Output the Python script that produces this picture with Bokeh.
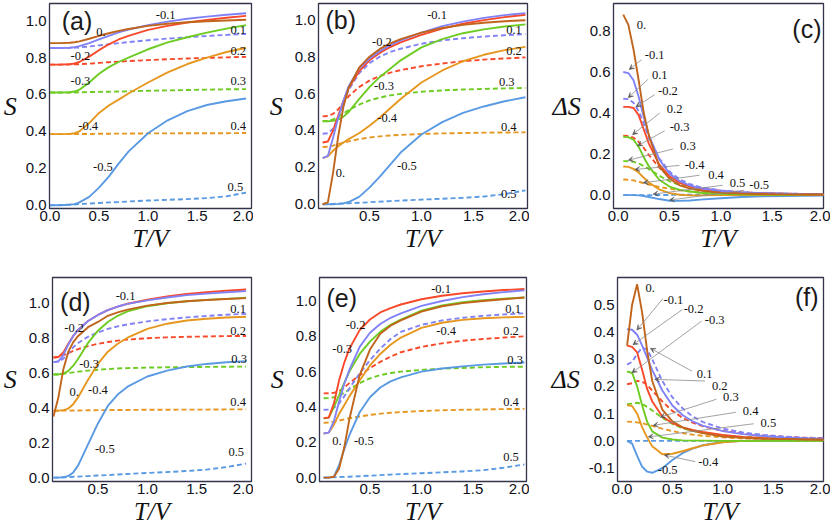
from bokeh.plotting import figure
from bokeh.layouts import column, row
from bokeh.models import (Label, LabelSet, ColumnDataSource, FixedTicker,
                          PrintfTickFormatter, Arrow, VeeHead, Range1d)
from bokeh.embed import file_html
from bokeh.resources import INLINE

# ---------------- data ----------------
XA = [0.0, 0.1, 0.2, 0.25, 0.3, 0.4, 0.5, 0.6, 0.7, 0.8, 1.0, 1.2, 1.4, 1.6, 1.8, 2.0]
XB = [0.05, 0.1, 0.15, 0.2, 0.25, 0.3, 0.4, 0.5, 0.6, 0.7, 0.8, 1.0, 1.2, 1.4, 1.6, 1.8, 2.0]
X_TICKS = [0.0, 0.5, 1.0, 1.5, 2.0]
S_TICKS = [0.0, 0.2, 0.4, 0.6, 0.8, 1.0]
C_TICKS = [0.0, 0.2, 0.4, 0.6, 0.8]
F_TICKS = [-0.1, 0.0, 0.1, 0.2, 0.3, 0.4, 0.5]

# panel (a)
a_0  = [0.878, 0.878, 0.880, 0.883, 0.888, 0.902, 0.918, 0.932, 0.945, 0.955, 0.972, 0.983, 0.991, 0.997, 1.001, 1.005]
a_m1 = [0.852, 0.852, 0.853, 0.856, 0.862, 0.878, 0.898, 0.918, 0.937, 0.952, 0.975, 0.995, 1.010, 1.022, 1.032, 1.040]
a_p1 = [0.852, 0.852, 0.853, 0.854, 0.855, 0.860, 0.866, 0.872, 0.878, 0.884, 0.894, 0.903, 0.910, 0.917, 0.923, 0.928]
a_m2 = [0.762, 0.762, 0.764, 0.768, 0.776, 0.805, 0.840, 0.872, 0.898, 0.918, 0.950, 0.972, 0.990, 1.004, 1.016, 1.026]
a_p2 = [0.762, 0.762, 0.763, 0.763, 0.764, 0.767, 0.771, 0.775, 0.778, 0.781, 0.786, 0.791, 0.795, 0.798, 0.801, 0.804]
a_m3 = [0.611, 0.611, 0.612, 0.616, 0.626, 0.665, 0.712, 0.748, 0.776, 0.800, 0.845, 0.882, 0.910, 0.935, 0.957, 0.976]
a_p3 = [0.611, 0.611, 0.611, 0.611, 0.612, 0.613, 0.614, 0.615, 0.616, 0.617, 0.620, 0.622, 0.624, 0.626, 0.628, 0.629]
a_m4 = [0.385, 0.385, 0.386, 0.390, 0.400, 0.445, 0.500, 0.540, 0.572, 0.605, 0.665, 0.720, 0.765, 0.800, 0.830, 0.853]
a_p4 = [0.385, 0.385, 0.385, 0.385, 0.386, 0.386, 0.387, 0.387, 0.388, 0.388, 0.389, 0.389, 0.390, 0.390, 0.390, 0.391]
a_m5 = [0.0, 0.0, 0.002, 0.006, 0.015, 0.045, 0.095, 0.155, 0.225, 0.290, 0.390, 0.460, 0.510, 0.543, 0.563, 0.578]
a_p5 = [0.0, 0.001, 0.003, 0.004, 0.006, 0.009, 0.012, 0.015, 0.017, 0.020, 0.025, 0.029, 0.033, 0.038, 0.048, 0.068]

# panel (b)
b_0  = [0.0, 0.01, 0.17, 0.37, 0.53, 0.63, 0.74, 0.80, 0.842, 0.872, 0.895, 0.93, 0.955, 0.972, 0.984, 0.992, 0.997]
b_m1 = [0.25, 0.262, 0.36, 0.47, 0.56, 0.64, 0.735, 0.79, 0.83, 0.862, 0.888, 0.93, 0.965, 0.99, 1.01, 1.025, 1.036]
b_p1 = [0.382, 0.385, 0.41, 0.47, 0.55, 0.62, 0.71, 0.765, 0.80, 0.825, 0.843, 0.87, 0.888, 0.90, 0.909, 0.916, 0.922]
b_m2 = [0.335, 0.34, 0.40, 0.48, 0.56, 0.63, 0.72, 0.78, 0.82, 0.852, 0.877, 0.918, 0.952, 0.978, 0.998, 1.014, 1.027]
b_p2 = [0.476, 0.478, 0.49, 0.515, 0.55, 0.585, 0.635, 0.67, 0.695, 0.713, 0.727, 0.748, 0.763, 0.775, 0.784, 0.79, 0.796]
b_m3 = [0.45, 0.45, 0.452, 0.46, 0.475, 0.50, 0.57, 0.635, 0.69, 0.735, 0.78, 0.85, 0.895, 0.927, 0.948, 0.963, 0.975]
b_p3 = [0.45, 0.452, 0.46, 0.475, 0.492, 0.51, 0.54, 0.563, 0.578, 0.59, 0.598, 0.61, 0.617, 0.622, 0.625, 0.628, 0.63]
b_m4 = [0.25, 0.26, 0.29, 0.315, 0.335, 0.353, 0.385, 0.425, 0.47, 0.52, 0.57, 0.66, 0.725, 0.775, 0.81, 0.835, 0.853]
b_p4 = [0.31, 0.312, 0.318, 0.326, 0.334, 0.341, 0.353, 0.362, 0.368, 0.373, 0.376, 0.381, 0.384, 0.386, 0.388, 0.389, 0.39]
b_m5 = [0.0, 0.0, 0.0, 0.002, 0.005, 0.012, 0.04, 0.09, 0.15, 0.215, 0.28, 0.378, 0.445, 0.495, 0.53, 0.558, 0.58]
b_p5 = [0.0, 0.001, 0.002, 0.003, 0.004, 0.005, 0.008, 0.011, 0.014, 0.017, 0.02, 0.025, 0.03, 0.035, 0.042, 0.055, 0.075]

# panel (c)
c_0  = [0.88, 0.83, 0.71, 0.56, 0.40, 0.29, 0.14, 0.08, 0.048, 0.032, 0.022, 0.012, 0.008, 0.006, 0.004, 0.003, 0.003]
c_m1 = [0.60, 0.595, 0.56, 0.48, 0.38, 0.29, 0.175, 0.105, 0.068, 0.047, 0.034, 0.02, 0.013, 0.009, 0.007, 0.005, 0.004]
c_p1 = [0.47, 0.468, 0.45, 0.41, 0.35, 0.28, 0.18, 0.115, 0.077, 0.054, 0.039, 0.023, 0.015, 0.01, 0.008, 0.006, 0.005]
c_m2 = [0.43, 0.43, 0.425, 0.39, 0.32, 0.25, 0.15, 0.092, 0.06, 0.042, 0.03, 0.018, 0.011, 0.008, 0.006, 0.004, 0.003]
c_p2 = [0.29, 0.289, 0.28, 0.26, 0.23, 0.195, 0.135, 0.09, 0.062, 0.045, 0.034, 0.021, 0.014, 0.01, 0.008, 0.006, 0.005]
c_m3 = [0.285, 0.283, 0.27, 0.235, 0.185, 0.14, 0.075, 0.042, 0.026, 0.018, 0.012, 0.007, 0.004, 0.003, 0.002, 0.002, 0.002]
c_p3 = [0.166, 0.165, 0.162, 0.155, 0.142, 0.127, 0.095, 0.068, 0.05, 0.037, 0.028, 0.017, 0.012, 0.009, 0.007, 0.005, 0.004]
c_m4 = [0.14, 0.138, 0.128, 0.11, 0.085, 0.062, 0.028, 0.01, 0.002, -0.001, -0.001, 0.0, 0.0, 0.0, 0.0, 0.0, 0.0]
c_p4 = [0.076, 0.075, 0.072, 0.066, 0.058, 0.052, 0.04, 0.031, 0.024, 0.018, 0.014, 0.009, 0.006, 0.005, 0.004, 0.003, 0.003]
c_m5 = [0.0, 0.0, 0.0, -0.001, -0.004, -0.009, -0.019, -0.027, -0.028, -0.026, -0.022, -0.015, -0.009, -0.006, -0.004, -0.003, -0.002]
c_p5 = [0.0, 0.0, 0.0, 0.0, 0.0, 0.0, 0.001, 0.001, 0.002, 0.002, 0.002, 0.002, 0.002, 0.002, 0.002, 0.002, 0.002]

# panel (d)
d_0  = [0.35, 0.46, 0.62, 0.72, 0.775, 0.81, 0.86, 0.89, 0.925, 0.945, 0.96, 0.983, 0.998, 1.008, 1.015, 1.021, 1.026]
d_m1 = [0.66, 0.665, 0.70, 0.76, 0.81, 0.845, 0.895, 0.93, 0.957, 0.978, 0.993, 1.013, 1.03, 1.043, 1.052, 1.06, 1.066]
d_p1 = [0.66, 0.663, 0.68, 0.71, 0.745, 0.77, 0.805, 0.83, 0.85, 0.865, 0.876, 0.893, 0.906, 0.916, 0.924, 0.931, 0.937]
d_m2 = [0.687, 0.69, 0.715, 0.765, 0.81, 0.845, 0.895, 0.93, 0.957, 0.978, 0.994, 1.017, 1.036, 1.05, 1.06, 1.068, 1.075]
d_p2 = [0.687, 0.69, 0.70, 0.712, 0.724, 0.735, 0.752, 0.765, 0.775, 0.783, 0.789, 0.797, 0.802, 0.805, 0.807, 0.809, 0.81]
d_m3 = [0.59, 0.59, 0.595, 0.61, 0.64, 0.68, 0.77, 0.84, 0.89, 0.925, 0.95, 0.98, 0.997, 1.008, 1.016, 1.022, 1.028]
d_p3 = [0.59, 0.591, 0.594, 0.598, 0.602, 0.606, 0.612, 0.617, 0.621, 0.624, 0.626, 0.629, 0.631, 0.632, 0.633, 0.634, 0.635]
d_m4 = [0.382, 0.383, 0.386, 0.395, 0.42, 0.46, 0.56, 0.65, 0.72, 0.765, 0.80, 0.85, 0.88, 0.898, 0.908, 0.915, 0.92]
d_p4 = [0.382, 0.382, 0.383, 0.383, 0.384, 0.384, 0.385, 0.386, 0.386, 0.387, 0.387, 0.388, 0.388, 0.389, 0.389, 0.39, 0.39]
d_m5 = [0.0, 0.0, 0.002, 0.01, 0.03, 0.07, 0.19, 0.31, 0.41, 0.475, 0.52, 0.578, 0.612, 0.635, 0.65, 0.66, 0.666]
d_p5 = [0.0, 0.001, 0.002, 0.003, 0.005, 0.006, 0.009, 0.012, 0.015, 0.018, 0.021, 0.027, 0.032, 0.038, 0.046, 0.06, 0.08]

# panel (e)
e_0  = [0.0, 0.0, 0.005, 0.05, 0.17, 0.33, 0.58, 0.725, 0.815, 0.86, 0.89, 0.94, 0.97, 0.988, 1.0, 1.01, 1.02]
e_m1 = [0.25, 0.255, 0.32, 0.43, 0.53, 0.61, 0.74, 0.82, 0.87, 0.905, 0.93, 0.972, 1.0, 1.022, 1.038, 1.05, 1.06]
e_p1 = [0.384, 0.385, 0.395, 0.42, 0.46, 0.505, 0.59, 0.665, 0.73, 0.785, 0.825, 0.865, 0.89, 0.905, 0.916, 0.924, 0.93]
e_m2 = [0.337, 0.34, 0.42, 0.55, 0.65, 0.73, 0.835, 0.895, 0.935, 0.96, 0.98, 1.01, 1.03, 1.044, 1.054, 1.062, 1.068]
e_p2 = [0.477, 0.478, 0.48, 0.49, 0.51, 0.535, 0.58, 0.62, 0.655, 0.685, 0.71, 0.74, 0.76, 0.775, 0.785, 0.793, 0.80]
e_m3 = [0.335, 0.34, 0.40, 0.465, 0.535, 0.60, 0.70, 0.77, 0.825, 0.865, 0.895, 0.945, 0.975, 0.993, 1.005, 1.013, 1.02]
e_p3 = [0.449, 0.45, 0.455, 0.465, 0.48, 0.50, 0.535, 0.562, 0.58, 0.592, 0.60, 0.61, 0.617, 0.621, 0.625, 0.627, 0.628]
e_m4 = [0.25, 0.255, 0.30, 0.36, 0.41, 0.46, 0.55, 0.635, 0.70, 0.752, 0.793, 0.848, 0.877, 0.893, 0.902, 0.907, 0.91]
e_p4 = [0.31, 0.312, 0.317, 0.323, 0.33, 0.336, 0.346, 0.355, 0.362, 0.367, 0.371, 0.377, 0.381, 0.384, 0.386, 0.388, 0.389]
e_m5 = [0.0, 0.0, 0.005, 0.07, 0.16, 0.24, 0.37, 0.455, 0.51, 0.545, 0.568, 0.6, 0.618, 0.63, 0.64, 0.646, 0.652]
e_p5 = [0.0, 0.001, 0.002, 0.003, 0.004, 0.005, 0.008, 0.011, 0.014, 0.017, 0.02, 0.025, 0.03, 0.035, 0.042, 0.056, 0.075]

# panel (f)
f_0  = [0.35, 0.50, 0.575, 0.47, 0.33, 0.22, 0.115, 0.072, 0.05, 0.037, 0.029, 0.016, 0.011, 0.008, 0.007, 0.006, 0.005]
f_m1 = [0.41, 0.408, 0.39, 0.35, 0.305, 0.26, 0.185, 0.13, 0.095, 0.072, 0.056, 0.036, 0.025, 0.018, 0.013, 0.01, 0.008]
f_p1 = [0.28, 0.29, 0.32, 0.343, 0.335, 0.30, 0.22, 0.16, 0.12, 0.09, 0.07, 0.045, 0.031, 0.022, 0.016, 0.012, 0.009]
f_m2 = [0.35, 0.345, 0.325, 0.26, 0.19, 0.145, 0.09, 0.065, 0.05, 0.04, 0.033, 0.022, 0.015, 0.011, 0.008, 0.006, 0.005]
f_p2 = [0.208, 0.212, 0.22, 0.218, 0.205, 0.185, 0.145, 0.11, 0.085, 0.067, 0.054, 0.037, 0.027, 0.02, 0.015, 0.012, 0.01]
f_m3 = [0.255, 0.25, 0.20, 0.13, 0.07, 0.035, 0.012, 0.005, 0.002, 0.001, 0.001, 0.0, 0.0, 0.0, 0.0, 0.0, 0.0]
f_p3 = [0.135, 0.137, 0.14, 0.135, 0.125, 0.112, 0.085, 0.062, 0.047, 0.037, 0.03, 0.02, 0.015, 0.012, 0.01, 0.008, 0.007]
f_m4 = [0.132, 0.128, 0.10, 0.05, 0.012, -0.02, -0.049, -0.047, -0.038, -0.027, -0.017, -0.005, 0.0, 0.001, 0.001, 0.001, 0.001]
f_p4 = [0.071, 0.07, 0.068, 0.065, 0.06, 0.055, 0.045, 0.036, 0.029, 0.023, 0.019, 0.013, 0.009, 0.007, 0.006, 0.005, 0.004]
f_m5 = [0.0, -0.01, -0.055, -0.095, -0.113, -0.117, -0.1, -0.07, -0.045, -0.028, -0.016, -0.004, 0.0, 0.001, 0.001, 0.001, 0.001]
f_p5 = [0.0, 0.0, 0.0, 0.0, 0.0, 0.0, 0.0, 0.0, 0.0, 0.0, 0.0, 0.0, 0.0, 0.0, 0.0, 0.0, 0.0]

# curve labels: (text, x, y)
a_labels = [("0.", 0.52, 0.94), ("-0.1", 1.18, 1.03), ("0.1", 1.92, 0.95), ("-0.2", 0.31, 0.81),
            ("0.2", 1.92, 0.836), ("-0.3", 0.31, 0.673), ("0.3", 1.92, 0.673), ("-0.4", 0.39, 0.43),
            ("0.4", 1.92, 0.43), ("-0.5", 0.54, 0.205), ("0.5", 1.89, 0.098)]
b_labels = [("-0.1", 1.15, 1.027), ("0.1", 1.89, 0.944), ("-0.2", 0.62, 0.877), ("0.2", 1.89, 0.829),
            ("-0.3", 0.64, 0.643), ("0.3", 1.82, 0.665), ("-0.4", 0.67, 0.47), ("0.4", 1.84, 0.418),
            ("-0.5", 0.86, 0.21), ("0.", 0.22, 0.17), ("0.5", 1.84, 0.058)]
c_labels = [("0.", 0.227, 0.83), ("-0.1", 0.356, 0.684), ("0.1", 0.405, 0.585), ("-0.2", 0.485, 0.51),
            ("0.2", 0.55, 0.42), ("-0.3", 0.598, 0.33), ("0.3", 0.679, 0.238), ("-0.4", 0.744, 0.148),
            ("0.4", 0.953, 0.097), ("0.5", 1.163, 0.06), ("-0.5", 1.373, 0.048)]
d_labels = [("-0.1", 0.78, 1.04), ("0.1", 1.92, 0.966), ("-0.2", 0.26, 0.854), ("0.2", 1.92, 0.84),
            ("-0.3", 0.41, 0.65), ("0.3", 1.93, 0.677), ("0.", 0.26, 0.49), ("-0.4", 0.5, 0.5),
            ("0.4", 1.92, 0.435), ("-0.5", 0.57, 0.164), ("0.5", 1.9, 0.146)]
e_labels = [("-0.1", 1.19, 1.068), ("0.1", 1.89, 0.957), ("-0.2", 0.36, 0.865), ("-0.4", 1.24, 0.832),
            ("0.2", 1.87, 0.828), ("-0.3", 0.23, 0.726), ("0.3", 1.91, 0.665), ("0.4", 1.87, 0.43),
            ("0.", 0.18, 0.209), ("-0.5", 0.44, 0.209), ("0.5", 1.87, 0.116)]
f_labels = [("0.", 0.28, 0.56), ("-0.1", 0.51, 0.518), ("-0.2", 0.71, 0.486), ("-0.3", 0.92, 0.443),
            ("0.1", 0.82, 0.244), ("0.2", 0.97, 0.20), ("0.3", 1.08, 0.16), ("0.4", 1.276, 0.111),
            ("0.5", 1.453, 0.066), ("-0.4", 0.856, -0.079), ("-0.5", 0.453, -0.106)]

# leader arrows: (x_tail, y_tail, x_head, y_head)
c_arrows = [(0.227, 0.66, 0.108, 0.612), (0.29, 0.564, 0.098, 0.475), (0.356, 0.49, 0.173, 0.43),
            (0.405, 0.40, 0.14, 0.295), (0.453, 0.314, 0.189, 0.24), (0.534, 0.225, 0.098, 0.17),
            (0.598, 0.145, 0.163, 0.125), (0.792, 0.097, 0.244, 0.06), (1.018, 0.048, 0.34, 0.005),
            (1.227, 0.024, 0.5, -0.024)]
f_arrows = [(0.405, 0.522, 0.147, 0.407), (0.598, 0.482, 0.108, 0.353), (0.79, 0.44, 0.098, 0.25),
            (0.695, 0.256, 0.282, 0.34), (0.824, 0.22, 0.324, 0.226), (0.937, 0.153, 0.379, 0.087),
            (1.13, 0.105, 0.308, 0.057), (1.308, 0.063, 0.26, 0.0145), (0.727, -0.076, 0.42, -0.052)]

# ---------------- styling ----------------
COL = {"0": "#c0651b", "1": "#8282f7", "2": "#f84a2a", "3": "#6dcb22", "4": "#e6971f", "5": "#5a9ae3"}
ORDER = ["p5", "p4", "p3", "p2", "p1", "m5", "m4", "m3", "m2", "m1", "0"]
TICK_FONT = "Liberation Sans"
TEXT_COL = "#101020"


def make_panel(lay, xr, yr, yticks, xs, series, labels, tag, tag_pos, ylab, ylab_standoff, arrows=None):
    L, FW, R, T, FH, B = lay
    p = figure(width=L + FW + R, height=T + FH + B, x_range=Range1d(*xr), y_range=Range1d(*yr),
               output_backend="svg", toolbar_location=None, title=None,
               min_border_left=L, min_border_right=R, min_border_top=T, min_border_bottom=B)
    p.background_fill_color = "white"
    p.border_fill_color = "white"
    p.outline_line_color = "#33334a"
    p.outline_line_width = 1.3
    p.xgrid.visible = False
    p.ygrid.visible = False
    for ax in (p.xaxis[0], p.yaxis[0]):
        ax.axis_line_color = None
        ax.major_tick_line_color = None
        ax.minor_tick_line_color = None
        ax.major_tick_in = 0
        ax.major_tick_out = 0
        ax.minor_tick_in = 0
        ax.minor_tick_out = 0
        ax.major_label_text_font = TICK_FONT
        ax.major_label_text_font_size = "15px"
        ax.major_label_text_color = TEXT_COL
        ax.major_label_standoff = 3
        ax.formatter = PrintfTickFormatter(format="%.1f")
        ax.axis_label_text_font = "Liberation Serif"
        ax.axis_label_text_font_style = "italic"
        ax.axis_label_text_color = "#111111"
    p.xaxis[0].ticker = FixedTicker(ticks=X_TICKS)
    p.yaxis[0].ticker = FixedTicker(ticks=yticks)
    p.xaxis[0].axis_label = "T/V"
    p.xaxis[0].axis_label_text_font_size = "25px"
    p.xaxis[0].axis_label_standoff = 1
    p.xaxis[0].major_label_standoff = 2
    p.yaxis[0].axis_label = ylab
    p.yaxis[0].axis_label_text_font_size = "26px"
    p.yaxis[0].axis_label_orientation = "horizontal"
    p.yaxis[0].axis_label_standoff = ylab_standoff

    def px2x(px):
        return xr[0] + px / FW * (xr[1] - xr[0])

    def py2y(py):  # py measured downward from frame top
        return yr[1] - py / FH * (yr[1] - yr[0])

    for key in ORDER:
        ys = series[key]
        c = COL[key[-1]]
        dash = "5 3" if key.startswith("p") else "solid"
        p.line(xs, ys, line_color=c, line_width=1.9, line_dash=dash)

    if arrows:
        asrc = ColumnDataSource(dict(x0=[a[0] for a in arrows], y0=[a[1] for a in arrows],
                                     x1=[a[2] for a in arrows], y1=[a[3] for a in arrows]))
        p.add_layout(Arrow(end=VeeHead(size=5, line_color="#555555", fill_color="#555555", line_width=0.5),
                           x_start="x0", y_start="y0", x_end="x1", y_end="y1", source=asrc,
                           line_color="#8a8a8a", line_width=0.8))

    lsrc = ColumnDataSource(dict(x=[l[1] for l in labels], y=[l[2] for l in labels], t=[l[0] for l in labels]))
    p.add_layout(LabelSet(x="x", y="y", text="t", source=lsrc, text_font=TICK_FONT,
                          text_font_size="12.5px", text_align="center", text_baseline="middle",
                          text_color="#111111"))

    side, dx, dy = tag_pos
    if side == "left":
        p.add_layout(Label(x=px2x(dx), y=py2y(dy), text=tag, text_font=TICK_FONT, text_font_size="25px",
                           text_align="left", text_baseline="top", text_color="#1a1a1a"))
    else:
        p.add_layout(Label(x=px2x(FW - dx), y=py2y(dy), text=tag, text_font=TICK_FONT, text_font_size="25px",
                           text_align="right", text_baseline="top", text_color="#1a1a1a"))
    return p


def ser(prefix):
    g = globals()
    return {k: g[prefix + "_" + k] for k in ORDER}


# layout tuples: (left border, frame width, right border, top border, frame height, bottom border)
pa = make_panel((37, 214, 2, 3, 207, 50), (-0.005, 2.055), (-0.018, 1.093), S_TICKS, XA, ser("a"),
                a_labels, "(a)", ("left", 13, 4), "S", 6)
pb = make_panel((65, 209, 2, 3, 207, 50), (0.01, 2.02), (-0.023, 1.088), S_TICKS, XB, ser("b"),
                b_labels, "(b)", ("left", 7, 3), "S", 9)
pc = make_panel((84, 210, 7, 2, 206, 52), (-0.045, 2.0), (-0.065, 0.934), C_TICKS, XB, ser("c"),
                c_labels, "(c)", ("right", 2, 12), "ΔS", 6, arrows=c_arrows)
pd = make_panel((42, 209, 2, 15, 206, 47), (0.04, 2.055), (-0.022, 1.144), S_TICKS, XB, ser("d"),
                d_labels, "(d)", ("left", 8, 11), "S", 9)
pe = make_panel((66, 207, 3, 15, 206, 47), (0.01, 2.02), (-0.022, 1.133), S_TICKS, XB, ser("e"),
                e_labels, "(e)", ("left", 7, 7), "S", 9)
pf = make_panel((88, 206, 7, 17, 204, 47), (-0.045, 2.0), (-0.149, 0.60), F_TICKS, XB, ser("f"),
                f_labels, "(f)", ("right", 5, 5), "ΔS", 6, arrows=f_arrows)

layout = column(row(pa, pb, pc), row(pd, pe, pf))
open("out.html", "w").write(file_html(layout, INLINE))
